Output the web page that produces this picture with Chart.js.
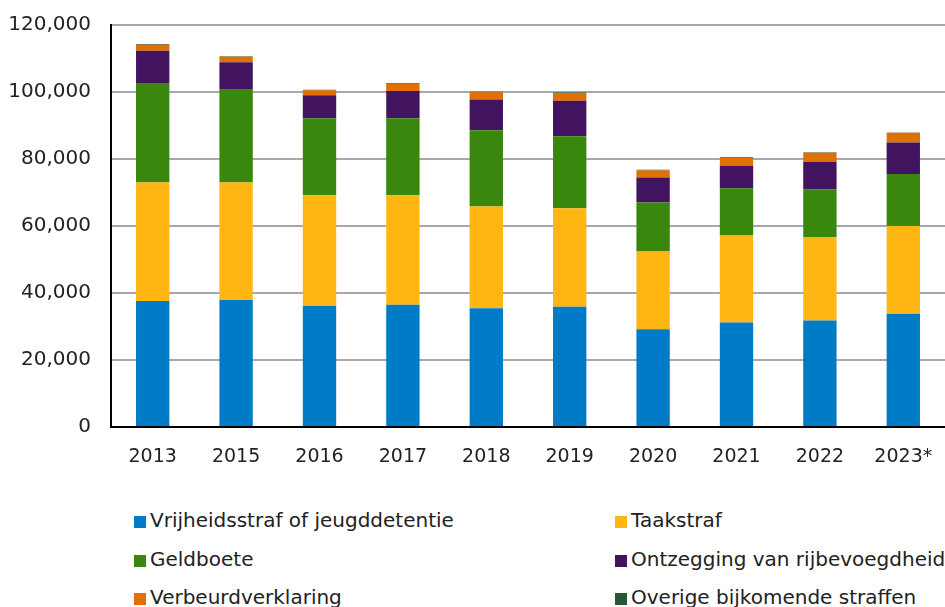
<!DOCTYPE html>
<html>
<head>
<meta charset="utf-8">
<script src="https://cdn.jsdelivr.net/npm/chart.js@4"></script>
<style>
  body { margin: 0; background: #fff; width: 945px; height: 607px; overflow: hidden; position: relative; }
  #wrap { position: absolute; left: 0; top: -7px; width: 945px; height: 487px; }
  #legend { position: absolute; left: 0; top: 0; width: 945px; font-family: "DejaVu Sans", sans-serif; font-size: 20px; color: #222; }
  .item { position: absolute; white-space: nowrap; line-height: 22px; }
  .box { display: inline-block; width: 12px; height: 12px; margin-right: 4px; vertical-align: -1px; }
</style>
</head>
<body>
<div id="wrap"><canvas id="myChart"></canvas></div>
<div id="legend"></div>
<script>
const years = ["2013", "2015", "2016", "2017", "2018", "2019", "2020", "2021", "2022", "2023*"];

const vrijheidsstraf = [37600, 37900, 36200, 36500, 35450, 35900, 29200, 31200, 31800, 33800];
const taakstraf      = [35400, 35100, 33000, 32700, 30400, 29400, 23200, 26000, 24900, 26200];
const geldboete      = [29500, 27900, 23000, 23000, 22700, 21500, 14600, 14100, 14200, 15500];
const ontzegging     = [9800, 8000, 6800, 8100, 9200, 10600, 7500, 6600, 8200, 9400];
const verbeurd       = [1800, 1600, 1500, 2200, 2200, 2300, 2100, 2400, 2800, 2900];
const overige        = [200, 200, 200, 200, 100, 150, 200, 200, 100, 100];

const yTicks = [0, 20000, 40000, 60000, 80000, 100000, 120000];

let series = [
  { label: "Vrijheidsstraf of jeugddetentie", data: vrijheidsstraf, color: "#007BC7" },
  { label: "Taakstraf", data: taakstraf, color: "#FFB612" },
  { label: "Geldboete", data: geldboete, color: "#39870C" },
  { label: "Ontzegging van rijbevoegdheid", data: ontzegging, color: "#42145F" },
  { label: "Verbeurdverklaring", data: verbeurd, color: "#E17000" },
  { label: "Overige bijkomende straffen", data: overige, color: "#275937" }
];

const ctx = document.getElementById("myChart").getContext("2d");
const chart = new Chart(ctx, {
  type: "bar",
  data: {
    labels: years,
    datasets: series.map((s) => ({
      label: s.label,
      data: s.data,
      backgroundColor: s.color,
      borderWidth: 0,
      categoryPercentage: 1,
      barPercentage: 0.4
    }))
  },
  options: {
    responsive: true,
    maintainAspectRatio: false,
    animation: false,
    layout: { padding: { top: 0, right: 0, left: 0, bottom: 0 } },
    plugins: { legend: { display: false }, tooltip: { enabled: false } },
    scales: {
      x: {
        stacked: true,
        grid: { display: false },
        border: { color: "#000", width: 2 },
        ticks: { color: "#222", font: { family: "DejaVu Sans", size: 19 }, padding: 11, maxRotation: 0 },
        afterFit: (s) => { s.height = 53; }
      },
      y: {
        stacked: true,
        min: 0,
        max: 120000,
        afterBuildTicks: (s) => { s.ticks = yTicks.map((v) => ({ value: v })); },
        grid: { color: "#a8a8a8", lineWidth: 2, drawTicks: false },
        border: { color: "#000", width: 2 },
        ticks: {
          color: "#222",
          font: { family: "DejaVu Sans", size: 20 },
          padding: 20,
          callback: (v) => v.toLocaleString("en-US")
        },
        afterFit: (s) => { s.width = 111; }
      }
    }
  }
});

// legend in two columns, built from the datasets
let legendHTML = document.getElementById("legend");
chart.data.datasets.forEach((d, i) => {
  let el = document.createElement("div");
  el.className = "item";
  el.style.left = (i % 2 === 0 ? 134 : 615) + "px";
  el.style.top = (509 + Math.floor(i / 2) * 38.5) + "px";
  el.innerHTML = '<span class="box" style="background:' + d.backgroundColor + '"></span>' + d.label;
  legendHTML.appendChild(el);
});
</script>
</body>
</html>
